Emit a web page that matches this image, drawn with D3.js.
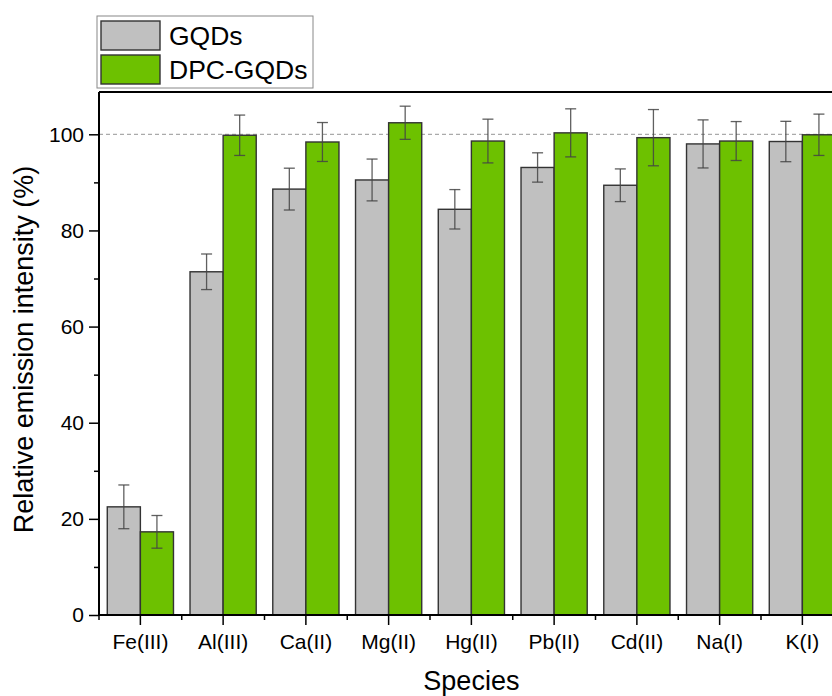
<!DOCTYPE html>
<html>
<head>
<meta charset="utf-8">
<script src="https://cdn.jsdelivr.net/npm/d3@7"></script>
<style>
  body { margin: 0; background: #fff; overflow: hidden; }
  text { font-family: "Liberation Sans", Arial, sans-serif; }
</style>
</head>
<body>
<div id="chart"></div>
<script>
// data
let species = ["Fe(III)", "Al(III)", "Ca(II)", "Mg(II)", "Hg(II)", "Pb(II)", "Cd(II)", "Na(I)", "K(I)"];
let seriesNames = ["GQDs", "DPC-GQDs"];
let gqds = [22.5, 71.4, 88.6, 90.5, 84.4, 93.1, 89.4, 98.0, 98.5];
let gqdsErr = [4.55, 3.7, 4.35, 4.35, 4.1, 3.05, 3.4, 5.0, 4.2];
let dpc = [17.3, 99.8, 98.4, 102.4, 98.6, 100.3, 99.3, 98.6, 99.9];
let dpcErr = [3.4, 4.2, 4.05, 3.45, 4.55, 5.0, 5.85, 4.05, 4.3];
let colors = ["#c0c0c0", "#6dc100"];

let margin = {top: 92, left: 99, bottom: 81};
let fullW = 832, fullH = 696;
let width = 744.75;  // plot runs off the right edge like the original
let height = fullH - margin.top - margin.bottom;

let svg = d3.select("#chart").append("svg")
  .attr("width", fullW)
  .attr("height", fullH);

let g = svg.append("g").attr("transform", `translate(${margin.left},${margin.top})`);

let x0 = d3.scaleBand().domain(species).range([0, width]).paddingInner(0.2).paddingOuter(0.1);
let x1 = d3.scaleBand().domain(seriesNames).range([0, x0.bandwidth()]);
let y = d3.scaleLinear().domain([0, 108.8]).range([height, 0]);

let rows = species.map((s, i) => ({
  s: s,
  vals: [
    {name: "GQDs", v: gqds[i], e: gqdsErr[i]},
    {name: "DPC-GQDs", v: dpc[i], e: dpcErr[i]}
  ]
}));

// reference line at 100
g.append("line")
  .attr("x1", 0).attr("x2", width)
  .attr("y1", y(100)).attr("y2", y(100))
  .attr("stroke", "#aaa")
  .attr("stroke-width", 1.2)
  .attr("stroke-dasharray", "4,3");

let groups = g.selectAll(".grp")
  .data(rows)
  .enter().append("g")
  .attr("class", "grp")
  .attr("transform", d => `translate(${x0(d.s)},0)`);

groups.selectAll("rect")
  .data(d => d.vals)
  .enter().append("rect")
  .attr("x", d => x1(d.name))
  .attr("y", d => y(d.v))
  .attr("width", x1.bandwidth())
  .attr("height", d => height - y(d.v))
  .attr("fill", (d, i) => colors[i])
  .attr("stroke", "#333")
  .attr("stroke-width", 1.4);

// error bars
let eb = groups.selectAll(".err")
  .data(d => d.vals)
  .enter().append("g")
  .attr("class", "err")
  .attr("stroke", "#444")
  .attr("stroke-opacity", 0.85)
  .attr("stroke-width", 1.3);

let cap = 5.5;
eb.append("line")
  .attr("x1", d => x1(d.name) + x1.bandwidth() / 2)
  .attr("x2", d => x1(d.name) + x1.bandwidth() / 2)
  .attr("y1", d => y(d.v + d.e))
  .attr("y2", d => y(d.v - d.e));
eb.append("line")
  .attr("x1", d => x1(d.name) + x1.bandwidth() / 2 - cap)
  .attr("x2", d => x1(d.name) + x1.bandwidth() / 2 + cap)
  .attr("y1", d => y(d.v + d.e))
  .attr("y2", d => y(d.v + d.e));
eb.append("line")
  .attr("x1", d => x1(d.name) + x1.bandwidth() / 2 - cap)
  .attr("x2", d => x1(d.name) + x1.bandwidth() / 2 + cap)
  .attr("y1", d => y(d.v - d.e))
  .attr("y2", d => y(d.v - d.e));

// y axis: minor ticks then major ticks with labels
g.append("g")
  .call(d3.axisLeft(y).tickValues(d3.range(10, 108, 20)).tickSize(5).tickFormat(""))
  .call(a => a.select(".domain").remove())
  .selectAll("line").attr("stroke", "#000").attr("stroke-width", 1.5);

let yAxis = g.append("g")
  .call(d3.axisLeft(y).tickValues(d3.range(0, 101, 20)).tickSize(10).tickPadding(5).tickSizeOuter(0));
yAxis.select(".domain").remove();
yAxis.selectAll("line").attr("stroke", "#000").attr("stroke-width", 1.5);
yAxis.selectAll("text").attr("font-size", 21).attr("fill", "#000")
  .style("font-family", "'Liberation Sans', Arial, sans-serif");

// x axis: boundary minor ticks, centre major ticks
let bounds = species.map(s => x0(s) - x0.step() * x0.paddingInner() / 2);
g.append("g")
  .attr("transform", `translate(0,${height})`)
  .selectAll("line").data(bounds).enter().append("line")
  .attr("x1", d => d).attr("x2", d => d)
  .attr("y1", 0).attr("y2", 5)
  .attr("stroke", "#000").attr("stroke-width", 1.5);

let xAxis = g.append("g")
  .attr("transform", `translate(0,${height})`)
  .call(d3.axisBottom(x0).tickSize(10).tickPadding(9).tickSizeOuter(0));
xAxis.select(".domain").remove();
xAxis.selectAll("line").attr("stroke", "#000").attr("stroke-width", 1.5);
xAxis.selectAll("text").attr("font-size", 21).attr("fill", "#000")
  .style("font-family", "'Liberation Sans', Arial, sans-serif");

// frame
g.append("line").attr("x1", 0).attr("x2", 0).attr("y1", 0).attr("y2", height)
  .attr("stroke", "#000").attr("stroke-width", 2);
g.append("line").attr("x1", 0).attr("x2", width).attr("y1", height).attr("y2", height)
  .attr("stroke", "#000").attr("stroke-width", 2);
g.append("line").attr("x1", 0).attr("x2", width).attr("y1", 0).attr("y2", 0)
  .attr("stroke", "#000").attr("stroke-width", 2);

// axis titles
svg.append("text")
  .attr("transform", `translate(33,${margin.top + height / 2 - 4}) rotate(-90)`)
  .attr("text-anchor", "middle")
  .attr("font-size", 27)
  .text("Relative emission intensity (%)");

svg.append("text")
  .attr("x", margin.left + width / 2)
  .attr("y", 690)
  .attr("text-anchor", "middle")
  .attr("font-size", 27)
  .text("Species");

// legend
let legend = svg.append("g").attr("transform", "translate(97,16)");
legend.append("rect")
  .attr("width", 216).attr("height", 72)
  .attr("fill", "#fff").attr("stroke", "#888").attr("stroke-width", 1);
seriesNames.forEach((n, i) => {
  legend.append("rect")
    .attr("x", 4).attr("y", 5 + i * 34)
    .attr("width", 59).attr("height", 29)
    .attr("fill", colors[i]).attr("stroke", "#333").attr("stroke-width", 1.4);
  legend.append("text")
    .attr("x", 72).attr("y", 29 + i * 34)
    .attr("font-size", 26.5)
    .text(n);
});
</script>
</body>
</html>
